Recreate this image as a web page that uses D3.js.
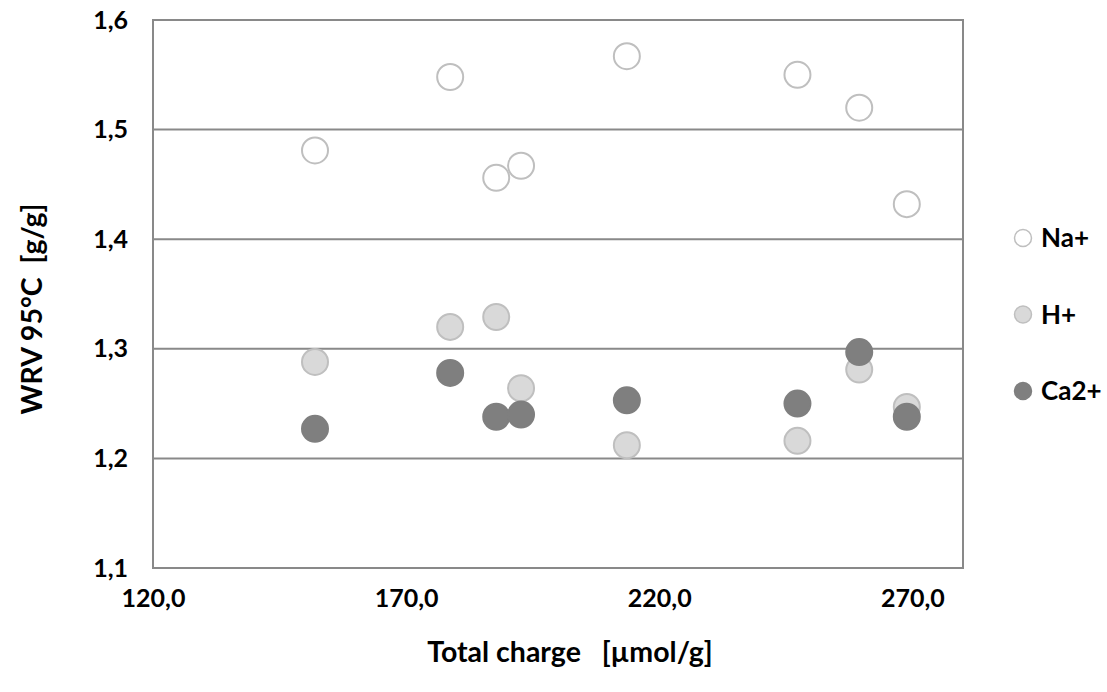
<!DOCTYPE html>
<html>
<head>
<meta charset="utf-8">
<script src="https://cdn.jsdelivr.net/npm/d3@7"></script>
<style>
  html, body { margin: 0; padding: 0; background: #fff; }
  svg { display: block; font-family: Lato, "Open Sans", sans-serif; font-weight: bold; }
</style>
</head>
<body>
<svg id="chart" width="1107" height="692"></svg>
<script>
// ---- data ----
const seriesNames = ["Na+", "H+", "Ca2+"];
const totalCharge = [152.0, 178.7, 187.8, 192.7, 213.6, 247.3, 259.5, 268.9];
const wrvNa = [1.481, 1.548, 1.456, 1.467, 1.567, 1.550, 1.520, 1.432];
const wrvH  = [1.288, 1.320, 1.329, 1.264, 1.212, 1.216, 1.281, 1.247];
const wrvCa = [1.227, 1.278, 1.238, 1.240, 1.253, 1.250, 1.297, 1.238];
const xTicks = [120, 170, 220, 270];
const yTicks = [1.1, 1.2, 1.3, 1.4, 1.5, 1.6];
const xTitle = "Total charge\u00A0\u00A0 [µmol/g]";
const yTitle = "WRV 95°C\u00A0 [g/g]";

// ---- styles ----
const styles = [
  { fill: "#ffffff", stroke: "#bfbfbf" },
  { fill: "#d9d9d9", stroke: "#bfbfbf" },
  { fill: "#7f7f7f", stroke: "#7f7f7f" }
];
const gridColor = "#898989";

const svg = d3.select("#chart");
const pL = 153, pR = 963, pT = 20, pB = 568;
const x = d3.scaleLinear().domain([120, 280]).range([pL, pR]);
const y = d3.scaleLinear().domain([1.1, 1.6]).range([pB, pT]);

const loc = d3.formatLocale({ decimal: ",", thousands: ".", grouping: [3], currency: ["", ""] });
const fx = loc.format(".1f");

// gridlines
svg.append("g").selectAll("line").data(yTicks).join("line")
  .attr("x1", pL).attr("x2", pR)
  .attr("y1", d => y(d)).attr("y2", d => y(d))
  .attr("stroke", gridColor).attr("stroke-width", 2);

// plot border
svg.append("rect")
  .attr("x", pL).attr("y", pT)
  .attr("width", pR - pL).attr("height", pB - pT)
  .attr("fill", "none").attr("stroke", gridColor).attr("stroke-width", 2);

// axes
const xAxis = svg.append("g").attr("transform", `translate(0,${pB})`)
  .call(d3.axisBottom(x).tickValues(xTicks).tickFormat(fx).tickSize(0).tickPadding(21));
const yAxis = svg.append("g").attr("transform", `translate(${pL},0)`)
  .call(d3.axisLeft(y).tickValues(yTicks).tickFormat(loc.format(".1f")).tickSize(0).tickPadding(25));
[xAxis, yAxis].forEach(a => {
  a.select(".domain").remove();
  a.selectAll("text").attr("font-family", "Lato, sans-serif").attr("font-weight", "bold")
    .attr("font-size", 25).attr("fill", "#000");
});

// points
const seriesVals = [wrvNa, wrvH, wrvCa];
seriesVals.forEach((vals, i) => {
  svg.append("g").selectAll("circle").data(vals).join("circle")
    .attr("cx", (d, j) => x(totalCharge[j]))
    .attr("cy", d => y(d))
    .attr("r", 13)
    .attr("fill", styles[i].fill)
    .attr("stroke", styles[i].stroke)
    .attr("stroke-width", 2);
});

// titles
svg.append("text").attr("x", 570).attr("y", 662)
  .attr("text-anchor", "middle").attr("font-size", 28.5).attr("fill", "#000")
  .text(xTitle);
svg.append("text").attr("transform", "translate(42,309) rotate(-90)")
  .attr("text-anchor", "middle").attr("font-size", 28.5).attr("fill", "#000")
  .text(yTitle);

// legend
const lg = svg.append("g").selectAll("g").data(seriesNames).join("g")
  .attr("transform", (d, i) => `translate(1023,${238 + i * 76.5})`);
lg.append("circle").attr("r", 8.5)
  .attr("fill", (d, i) => styles[i].fill)
  .attr("stroke", (d, i) => styles[i].stroke).attr("stroke-width", 1.5);
lg.append("text").attr("x", 18).attr("dy", "0.36em")
  .attr("font-size", 26).attr("fill", "#000").text(d => d);
</script>
</body>
</html>
